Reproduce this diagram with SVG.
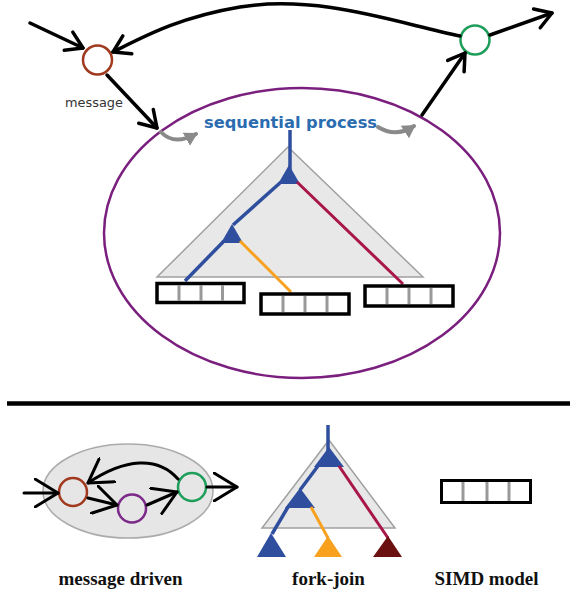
<svg xmlns="http://www.w3.org/2000/svg" width="570" height="592" viewBox="0 0 570 592">
  <style>
    .flow { fill: none; stroke: #000; stroke-width: 3.5; stroke-linecap: round; }
    .flow2 { fill: none; stroke: #000; stroke-width: 3; stroke-linecap: round; }
    .hint { fill: none; stroke: #8a8a8a; stroke-width: 4; stroke-linecap: round; }
    .tri { fill: #e8e8e8; stroke: #a0a0a0; stroke-width: 1.5; }
    .blue { stroke: #2f4f9e; fill: none; stroke-width: 3.5; }
    .crim { stroke: #a8164a; fill: none; stroke-width: 3; }
    .orng { stroke: #f7a11f; fill: none; stroke-width: 3; }
    .simd { fill: #fff; stroke: #000; stroke-width: 3.5; }
    .cell { stroke: #999; stroke-width: 3; }
    .label { font-family: "Liberation Serif", "Times New Roman", serif; font-weight: bold; font-size: 19px; fill: #111; text-anchor: middle; }
  </style>
  <defs>
    <marker id="chev" viewBox="0 -12 22 24" refX="19" refY="0" markerWidth="22" markerHeight="24" markerUnits="userSpaceOnUse" orient="auto">
      <path d="M3,-10 L19,0 L3,10" fill="none" stroke="#000" stroke-width="3.5" stroke-linecap="round" stroke-linejoin="round"/>
    </marker>
    <marker id="chevBig" viewBox="0 -15 28 30" refX="24" refY="0" markerWidth="28" markerHeight="30" markerUnits="userSpaceOnUse" orient="auto">
      <path d="M1,-14 L24,0 L1,14" fill="none" stroke="#000" stroke-width="3" stroke-linecap="round" stroke-linejoin="round"/>
    </marker>
    <marker id="grayHead" viewBox="0 -8 14 16" refX="11" refY="0" markerWidth="14" markerHeight="16" markerUnits="userSpaceOnUse" orient="auto">
      <path d="M0,-7.5 L13,0 L0,7.5 Z" fill="#8a8a8a"/>
    </marker>
  </defs>

  <!-- upper scene: process boundary -->
  <g id="process">
    <ellipse cx="302" cy="233" rx="198" ry="145" fill="none" stroke="#7a1f7e" stroke-width="2.5"/>
    <text x="204" y="128" font-family="'DejaVu Sans', Verdana, sans-serif" font-weight="bold" font-size="16.3" fill="#2b6cb0" textLength="173" lengthAdjust="spacingAndGlyphs">sequential process</text>
  </g>

  <!-- upper scene: fork-join tree with SIMD leaves -->
  <g id="tree">
    <polygon class="tri" points="288,147 157,277 423,277"/>
    <line class="blue" x1="290" y1="130" x2="290" y2="170" stroke-width="4"/>
    <polygon points="289,165 278,184 300,184" fill="#2f4f9e"/>
    <line class="blue" x1="281" y1="182" x2="233" y2="225"/>
    <polygon points="232,224 221,243 243,243" fill="#2f4f9e"/>
    <line class="blue" x1="224" y1="241" x2="185" y2="281"/>
    <line class="orng" x1="240" y1="241" x2="291" y2="292"/>
    <line class="crim" x1="297" y1="182" x2="403" y2="284"/>
  </g>
  <g id="simd-1">
    <rect class="simd" x="157" y="283.5" width="87" height="19"/>
    <line class="cell" x1="179" y1="285" x2="179" y2="301"/>
    <line class="cell" x1="201" y1="285" x2="201" y2="301"/>
    <line class="cell" x1="222.5" y1="285" x2="222.5" y2="301"/>
  </g>
  <g id="simd-2">
    <rect class="simd" x="261" y="294" width="88" height="20"/>
    <line class="cell" x1="283" y1="296" x2="283" y2="312"/>
    <line class="cell" x1="305" y1="296" x2="305" y2="312"/>
    <line class="cell" x1="327" y1="296" x2="327" y2="312"/>
  </g>
  <g id="simd-3">
    <rect class="simd" x="365" y="286" width="88" height="20"/>
    <line class="cell" x1="387" y1="288" x2="387" y2="304"/>
    <line class="cell" x1="409" y1="288" x2="409" y2="304"/>
    <line class="cell" x1="431" y1="288" x2="431" y2="304"/>
  </g>

  <!-- upper scene: mailboxes -->
  <g id="inbox">
    <circle cx="97.5" cy="60" r="14.5" fill="#fff" stroke="#a0391e" stroke-width="2.5"/>
  </g>
  <g id="outbox">
    <circle cx="475" cy="40" r="14.5" fill="#fff" stroke="#1e9e5a" stroke-width="2.5"/>
  </g>
  <text x="65" y="107" font-family="'DejaVu Sans', Verdana, sans-serif" font-size="12.9" fill="#333">message</text>

  <!-- upper scene: connectors -->
  <g id="connectors">
    <path class="flow" d="M30 23 L83 48" marker-end="url(#chev)"/>
    <path class="flow" d="M460 36 C400 24 320 -6 240 7 C180 17 145 36 113 52" marker-end="url(#chev)"/>
    <path class="flow" d="M107 75 L157 128" marker-end="url(#chev)"/>
    <path class="flow" d="M422 115 L465 53" marker-end="url(#chev)"/>
    <path class="flow" d="M490 35 L552 13" marker-end="url(#chev)"/>
    <path class="hint" d="M161 132 Q174 146 196 134" marker-end="url(#grayHead)"/>
    <path class="hint" d="M378 127 Q396 138 414 126" marker-end="url(#grayHead)"/>
  </g>

  <!-- divider -->
  <line x1="7" y1="403.5" x2="570" y2="403.5" stroke="#000" stroke-width="4.5"/>

  <!-- legend: message driven -->
  <g id="legend-message">
    <ellipse cx="128" cy="491" rx="85" ry="47" fill="#e6e6e6" stroke="#aaa" stroke-width="1.5"/>
    <circle cx="73" cy="492" r="14" fill="none" stroke="#a0391e" stroke-width="2.5"/>
    <circle cx="132" cy="508.5" r="14" fill="none" stroke="#7b2a8a" stroke-width="2.5"/>
    <circle cx="192" cy="487" r="14" fill="none" stroke="#1e9e5a" stroke-width="2.5"/>
    <path class="flow2" d="M24 493 L58 493" marker-end="url(#chevBig)"/>
    <path class="flow2" d="M178 479 C158 456 125 458 88 483" marker-end="url(#chevBig)"/>
    <path class="flow2" d="M88 498 L117 505" marker-end="url(#chevBig)"/>
    <path class="flow2" d="M147 505 L177 492" marker-end="url(#chevBig)"/>
    <path class="flow2" d="M207 487 L237 487" marker-end="url(#chevBig)"/>
    <text class="label" x="120.5" y="585">message driven</text>
  </g>

  <!-- legend: fork-join -->
  <g id="legend-forkjoin">
    <polygon class="tri" points="329,440 262,528 395,528"/>
    <line class="blue" x1="328" y1="425" x2="328" y2="452" stroke-width="4"/>
    <polygon points="329,447 314,467 344,467" fill="#2f4f9e"/>
    <line class="blue" x1="318" y1="466" x2="300" y2="490"/>
    <polygon points="300,488 285,508 315,508" fill="#2f4f9e"/>
    <line class="crim" x1="339" y1="466" x2="388" y2="538"/>
    <line class="blue" x1="288" y1="507" x2="272" y2="534"/>
    <line class="orng" x1="311" y1="507" x2="328" y2="538"/>
    <polygon points="271,533 257,557 286,557" fill="#2f4f9e"/>
    <polygon points="328,536 314,557 342,557" fill="#f7a11f"/>
    <polygon points="388,536 373,557 402,557" fill="#6b1010"/>
    <text class="label" x="328.5" y="585">fork-join</text>
  </g>

  <!-- legend: SIMD model -->
  <g id="legend-simd">
    <rect x="441.5" y="480.5" width="89" height="22" fill="#fff" stroke="#000" stroke-width="3"/>
    <line class="cell" x1="463" y1="482" x2="463" y2="501"/>
    <line class="cell" x1="487" y1="482" x2="487" y2="501"/>
    <line class="cell" x1="509" y1="482" x2="509" y2="501"/>
    <text class="label" x="486.5" y="585">SIMD model</text>
  </g>
</svg>
